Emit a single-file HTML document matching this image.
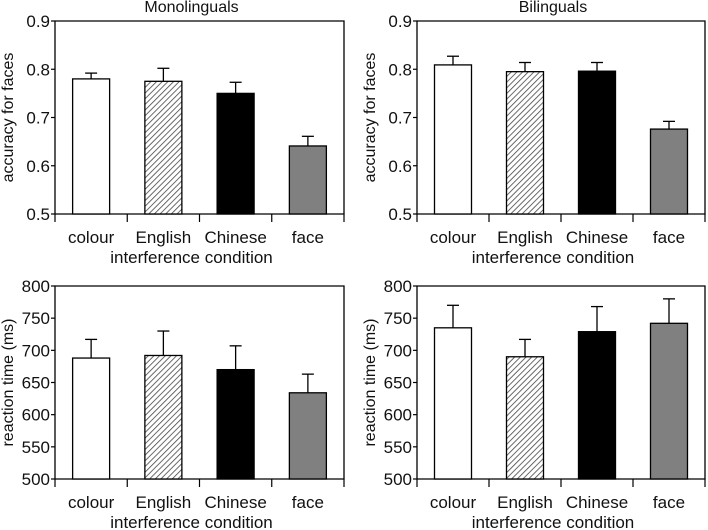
<!DOCTYPE html>
<html><head><meta charset="utf-8"><style>
html,body{margin:0;padding:0;background:#fff}
svg{display:block;font-family:"Liberation Sans",Arial,sans-serif}
</style></head><body>
<svg id="fig" width="708" height="530" viewBox="0 0 708 530">
<defs>
<pattern id="hatch" patternUnits="userSpaceOnUse" width="4" height="4" patternTransform="rotate(45)">
<rect width="4" height="4" fill="#fff"/><line x1="0" y1="0" x2="0" y2="4" stroke="#444" stroke-width="1.6"/>
</pattern>
</defs>
</svg>
<script>
const categories = ["colour","English","Chinese","face"];
const monoAcc = [0.780, 0.775, 0.750, 0.641];
const monoAccErr = [0.012, 0.027, 0.023, 0.020];
const biAcc = [0.809, 0.795, 0.796, 0.676];
const biAccErr = [0.018, 0.019, 0.018, 0.016];
const monoRT = [688, 692, 670, 634];
const monoRTErr = [29, 38, 37, 29];
const biRT = [735, 690, 729, 742];
const biRTErr = [35, 27, 39, 38];
const accTicks = ["0.5","0.6","0.7","0.8","0.9"];
const rtTicks = ["500","550","600","650","700","750","800"];
const fills = ["#fff","url(#hatch)","#000","#808080"];

const svg = document.getElementById('fig');
const NS = "http://www.w3.org/2000/svg";
function mk(tag, attrs, parent){const e=document.createElementNS(NS,tag);for(const k in attrs)e.setAttribute(k,attrs[k]);parent.appendChild(e);return e;}

function panel(name, x0, x1, y0, y1, vals, errs, ticks, ymin, ymax, ytitle, title){
  const g = mk('g',{},svg);
  
  
  const ys = v => y1 - (v - ymin) / (ymax - ymin) * (y1 - y0);
  const cw = (x1 - x0) / categories.length;
  const bw = 37;
  const ax = mk('path',{d:`M${x0},${y0}H${x1}V${y1}H${x0}Z`,fill:'none',stroke:'#000','stroke-width':1.3},g);
  
  
  ticks.forEach(t=>{
    const v = parseFloat(t), y = ys(v);
    mk('line',{x1:x0-4,x2:x0,y1:y,y2:y,stroke:'#000','stroke-width':1.2},g);
    const tx = mk('text',{x:x0-5,y:y+6,'text-anchor':'end','font-size':17,fill:'#111'},g);
    tx.textContent = t;
    
    
  });
  for(let i=0;i<=categories.length;i++){
    const x = x0 + i*cw;
    mk('line',{x1:x,x2:x,y1:y1,y2:y1+8,stroke:'#000','stroke-width':1.2},g);
  }
  categories.forEach((c,i)=>{
    const cx = x0 + (i+0.5)*cw;
    const top = ys(vals[i]), et = ys(vals[i]+errs[i]);
    mk('line',{x1:cx,x2:cx,y1:et,y2:top,stroke:'#000','stroke-width':1.3},g);
    mk('line',{x1:cx-6,x2:cx+6,y1:et,y2:et,stroke:'#000','stroke-width':1.3},g);
    const r = mk('rect',{x:cx-bw/2,y:top,width:bw,height:y1-top,fill:fills[i],stroke:'#000','stroke-width':1.3},g);
    
    
    const tl = mk('text',{x:cx,y:y1+29,'text-anchor':'middle','font-size':17,fill:'#111'},g);
    tl.textContent = c;
    
    
  });
  const xt = mk('text',{x:(x0+x1)/2 - 8,y:y1+49,'text-anchor':'middle','font-size':17,fill:'#111'},g);
  xt.textContent = 'interference condition';
  
  
  const yx = x0 - 42, yy = (y0+y1)/2;
  const yt = mk('text',{x:yx,y:yy,'text-anchor':'middle','font-size':16,fill:'#111',transform:`rotate(-90 ${yx} ${yy})`},g);
  yt.textContent = ytitle;
  
  
  if(title){
    const tt = mk('text',{x:(x0+x1)/2 - 8,y:y0-9,'text-anchor':'middle','font-size':16,fill:'#111'},g);
    tt.textContent = title;
    
    
  }
}
panel('monolingual-accuracy-chart',55,344,21,214,monoAcc,monoAccErr,accTicks,0.5,0.9,'accuracy for faces','Monolinguals');
panel('bilingual-accuracy-chart',417,705,21,214,biAcc,biAccErr,accTicks,0.5,0.9,'accuracy for faces','Bilinguals');
panel('monolingual-rt-chart',55,344,286,479,monoRT,monoRTErr,rtTicks,500,800,'reaction time (ms)',null);
panel('bilingual-rt-chart',417,705,286,479,biRT,biRTErr,rtTicks,500,800,'reaction time (ms)',null);
</script>
</body></html>
